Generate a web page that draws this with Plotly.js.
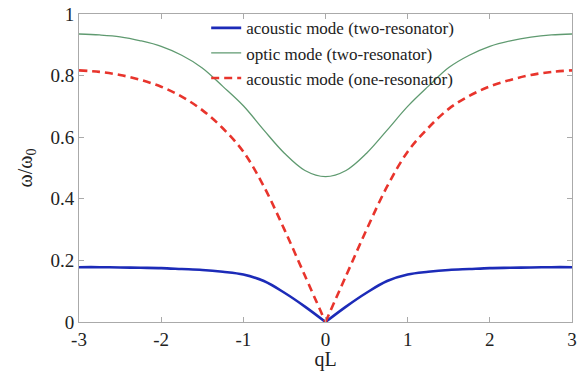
<!DOCTYPE html>
<html>
<head>
<meta charset="utf-8">
<script src="https://cdn.plot.ly/plotly-3.0.1.min.js"></script>
<style>html,body{margin:0;padding:0;background:#fff;}#chart{width:577px;height:371px;}</style>
</head>
<body>
<div id="chart"></div>
<script>
// qL sample points
const qL = [-3, -2.75, -2.5, -2.25, -2, -1.75, -1.5, -1.25, -1, -0.75, -0.5, -0.25, 0,
            0.25, 0.5, 0.75, 1, 1.25, 1.5, 1.75, 2, 2.25, 2.5, 2.75, 3];
// acoustic mode (two-resonator)
const acousticTwo = [0.178, 0.178, 0.177, 0.176, 0.175, 0.172, 0.169, 0.163, 0.154, 0.133, 0.095, 0.050, 0.0,
                     0.050, 0.095, 0.133, 0.154, 0.163, 0.169, 0.172, 0.175, 0.176, 0.177, 0.178, 0.178];
// optic mode (two-resonator)
const opticTwo = [0.935, 0.932, 0.926, 0.913, 0.895, 0.866, 0.825, 0.765, 0.702, 0.623, 0.548, 0.492, 0.472,
                  0.492, 0.548, 0.623, 0.700, 0.765, 0.826, 0.866, 0.895, 0.913, 0.925, 0.932, 0.935];
// acoustic mode (one-resonator)
const acousticOne = [0.817, 0.812, 0.802, 0.786, 0.764, 0.732, 0.688, 0.629, 0.553, 0.44, 0.30, 0.15, 0.0,
                     0.15, 0.30, 0.44, 0.553, 0.630, 0.692, 0.734, 0.765, 0.786, 0.802, 0.812, 0.817];
const names = ['acoustic mode (two-resonator)', 'optic mode (two-resonator)', 'acoustic mode (one-resonator)'];
const xTicks = [-3, -2, -1, 0, 1, 2, 3];
const yTicks = [0, 0.2, 0.4, 0.6, 0.8, 1];

// split at qL = 0 so that the cusp stays sharp while the rest is smoothed
function splitAtZero(xs, ys) {
  const i0 = xs.indexOf(0);
  const x = xs.slice(0, i0 + 1).concat([null], xs.slice(i0));
  const y = ys.slice(0, i0 + 1).concat([null], ys.slice(i0));
  return {x, y};
}

const serif = 'Liberation Serif';
const a2 = splitAtZero(qL, acousticTwo);
const a1 = splitAtZero(qL, acousticOne);
const traces = [
  {x: a2.x, y: a2.y, name: names[0], mode: 'lines', connectgaps: false, line: {color: '#1c2bb8', width: 2.6, shape: 'spline', smoothing: 1}},
  {x: qL, y: opticTwo, name: names[1], mode: 'lines', line: {color: '#5f9a70', width: 1.3, shape: 'spline', smoothing: 1}},
  {x: a1.x, y: a1.y, name: names[2], mode: 'lines', connectgaps: false, line: {color: '#e8342c', width: 2.6, dash: '8px,5px', shape: 'spline', smoothing: 1}}
];
const axisCommon = {
  showgrid: false, zeroline: false, showline: true, linecolor: '#aaaaaa', linewidth: 1,
  mirror: 'ticks', ticks: 'inside', ticklen: 5, tickcolor: '#aaaaaa',
  tickfont: {family: serif, size: 19, color: '#222'}
};
const layout = {
  width: 577, height: 371,
  font: {family: serif},
  margin: {l: 79, r: 5, t: 14, b: 49},
  paper_bgcolor: '#fff', plot_bgcolor: '#fff',
  showlegend: true,
  legend: {x: 0.258, y: 1.012, xanchor: 'left', yanchor: 'top', bgcolor: 'rgba(0,0,0,0)',
           font: {family: serif, size: 17, color: '#222'}, itemwidth: 30, tracegroupgap: 0},
  xaxis: Object.assign({}, axisCommon, {range: [-3, 3], tickvals: xTicks, ticktext: xTicks.map(String),
    title: {text: 'qL', font: {family: serif, size: 20, color: '#222'}, standoff: 6}}),
  yaxis: Object.assign({}, axisCommon, {range: [0, 1], tickvals: yTicks, ticktext: yTicks.map(String),
    title: {text: 'ω/ω<sub>0</sub>', font: {family: serif, size: 20, color: '#222'}, standoff: 12}})
};
Plotly.newPlot('chart', traces, layout, {staticPlot: true});
</script>
</body>
</html>
